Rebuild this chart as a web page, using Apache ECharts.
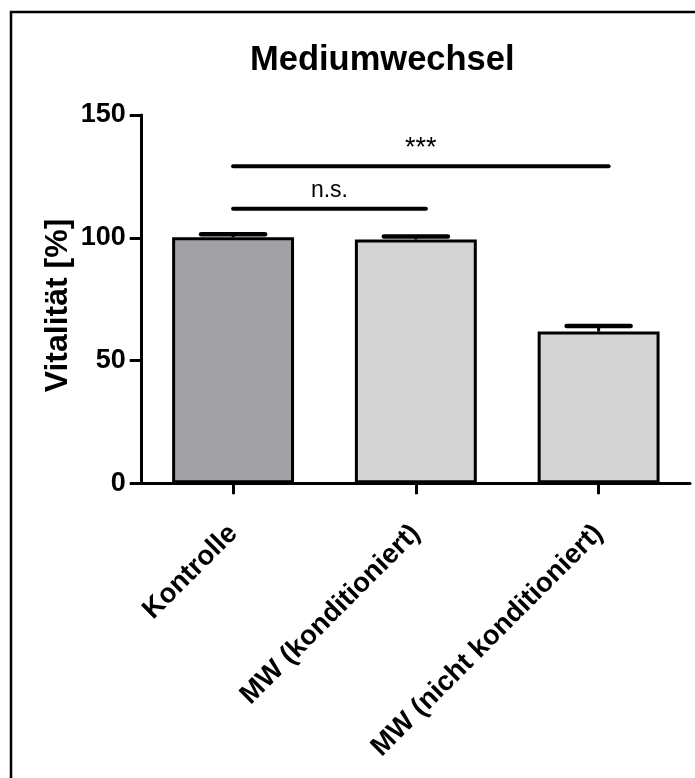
<!DOCTYPE html>
<html>
<head>
<meta charset="utf-8">
<script src="https://cdn.jsdelivr.net/npm/echarts@6/dist/echarts.min.js"></script>
<style>
html,body{margin:0;padding:0;background:#fff;}
#chart{width:695px;height:778px;}
</style>
</head>
<body>
<div id="chart"></div>
<script>
// ---- data ----
const titleText = 'Mediumwechsel';
const yAxisName = 'Vitalität [%]';
const categories = ['Kontrolle', 'MW (konditioniert)', 'MW (nicht konditioniert)'];
const means = [100.2, 99.3, 61.8];
const sems = [1.2, 1.2, 2.3];
const yTicks = [0, 50, 100, 150];
// significance comparisons: [fromIndex, toIndex, yLevel]
const sigPairs = [[0, 1, 111.8], [0, 2, 129.1]];
const sigLabels = ['n.s.', '***'];

// ---- styles ----
const barColors = ['#a2a1a6', '#d4d4d4', '#d4d4d4'];
const sigFontSizes = [23, 27];
const FONT = '"Liberation Sans", Arial, sans-serif';

const chart = echarts.init(document.getElementById('chart'), null, {renderer: 'canvas'});

const option = {
  backgroundColor: '#ffffff',
  animation: false,
  title: {
    text: titleText,
    left: 245,
    top: 38,
    textStyle: {fontFamily: FONT, fontWeight: 'bold', fontSize: 34.5, color: '#000'}
  },
  graphic: [
    {
      type: 'rect',
      shape: {x: 11, y: 12, width: 900, height: 1000},
      style: {fill: 'none', stroke: '#000', lineWidth: 2.5},
      silent: true
    },
    {
      type: 'text',
      x: 58.5, y: 305.5,
      rotation: Math.PI / 2,
      style: {text: yAxisName, fill: '#000', font: 'bold 32px ' + FONT,
              align: 'center', verticalAlign: 'middle'},
      silent: true
    }
  ],
  grid: {left: 141.7, right: 5, top: 115, bottom: 294.7},
  xAxis: {
    type: 'category',
    data: categories,
    boundaryGap: true,
    axisLine: {show: true, lineStyle: {color: '#000', width: 3}},
    axisTick: {show: true, alignWithLabel: true, length: 11, lineStyle: {color: '#000', width: 3}},
    axisLabel: {
      rotate: 45, margin: 46, interval: 0,
      fontFamily: FONT, fontWeight: 'bold', fontSize: 27.5, color: '#000'
    },
    splitLine: {show: false}
  },
  yAxis: {
    type: 'value',
    min: yTicks[0], max: yTicks[yTicks.length - 1], interval: yTicks[1] - yTicks[0],
    axisLine: {show: true, lineStyle: {color: '#000', width: 3}},
    axisTick: {show: true, length: 12, lineStyle: {color: '#000', width: 3}},
    axisLabel: {margin: 16, fontFamily: FONT, fontWeight: 'bold', fontSize: 27, color: '#000'},
    splitLine: {show: false}
  },
  series: [
    {
      type: 'bar',
      barWidth: '66.7%',
      data: means.map((v, i) => ({value: v, itemStyle: {color: barColors[i]}})),
      itemStyle: {borderColor: '#000', borderWidth: 3},
      z: 2
    },
    {
      type: 'custom',
      z: 3,
      data: means.map((v, i) => [i, v, v + sems[i]]),
      encode: {x: 0, y: [1, 2]},
      renderItem: function (params, api) {
        const i = api.value(0);
        const p0 = api.coord([i, api.value(1)]);
        const p1 = api.coord([i, api.value(2)]);
        const half = 32;
        return {
          type: 'group',
          children: [
            {type: 'line', shape: {x1: p0[0], y1: p0[1], x2: p1[0], y2: p1[1]},
             style: {stroke: '#000', lineWidth: 3}},
            {type: 'line', shape: {x1: p1[0] - half, y1: p1[1], x2: p1[0] + half, y2: p1[1]},
             style: {stroke: '#000', lineWidth: 4.5, lineCap: 'round'}}
          ]
        };
      }
    },
    {
      type: 'custom',
      z: 4,
      data: sigPairs,
      encode: {x: [0, 1], y: 2},
      renderItem: function (params, api) {
        const a = api.coord([api.value(0), api.value(2)]);
        const b = api.coord([api.value(1), api.value(2)]);
        const x2 = b[0] + 10;
        const fs = sigFontSizes[params.dataIndex];
        return {
          type: 'group',
          children: [
            {type: 'line', shape: {x1: a[0], y1: a[1], x2: x2, y2: b[1]},
             style: {stroke: '#000', lineWidth: 4, lineCap: 'round'}},
            {type: 'text', x: (a[0] + x2) / 2, y: a[1] - 18,
             style: {text: sigLabels[params.dataIndex], fill: '#000',
                     font: fs + 'px ' + FONT, align: 'center', verticalAlign: 'middle'}}
          ]
        };
      }
    }
  ]
};
chart.setOption(option);
</script>
</body>
</html>
